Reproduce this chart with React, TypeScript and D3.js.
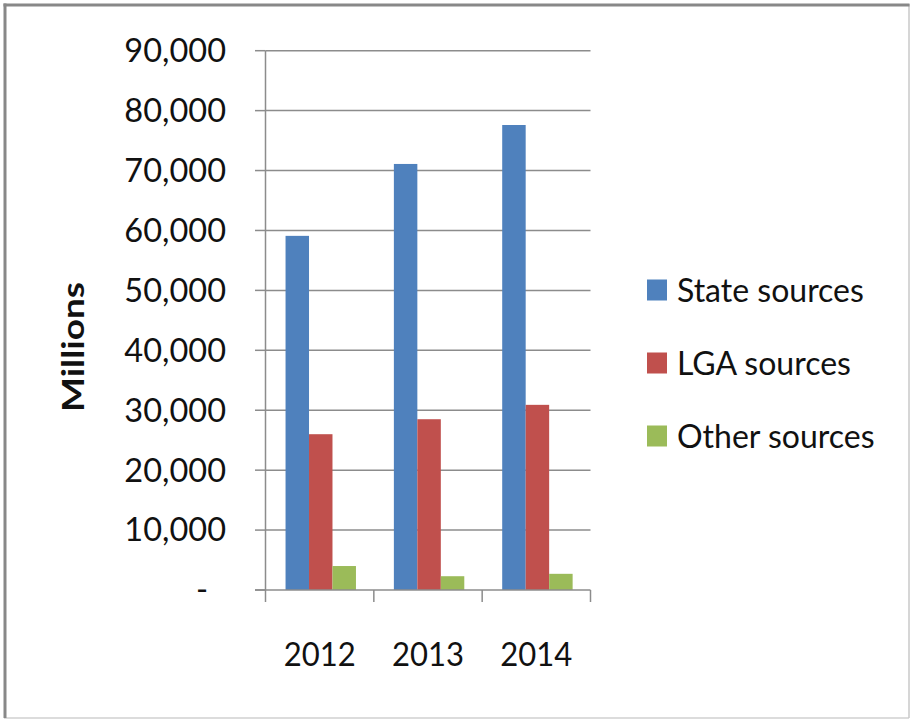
import React from "react";
import * as d3 from "d3";

const years = ["2012", "2013", "2014"];
const seriesNames = ["State sources", "LGA sources", "Other sources"];
const seriesColors = ["#4F81BD", "#C0504D", "#9BBB59"];
const stateValues = [59100, 71100, 77600];
const lgaValues = [26000, 28500, 30900];
const otherValues = [4000, 2300, 2700];
const yTicks = [0, 10000, 20000, 30000, 40000, 50000, 60000, 70000, 80000, 90000];

const W = 910;
const H = 720;
const FONT = "Lato, 'Open Sans', sans-serif";

export default function App() {
  const series = [stateValues, lgaValues, otherValues];
  const plotL = 265.5;
  const plotR = 590.5;
  const y = d3.scaleLinear().domain([0, 90000]).range([590, 50.7]);
  const x0 = d3.scaleBand<string>().domain(years).range([plotL, plotR]).padding(0);
  const bw = x0.bandwidth();
  const x1 = d3
    .scaleBand<number>()
    .domain([0, 1, 2])
    .range([bw * 0.185, bw * 0.835])
    .padding(0);
  const fmt = d3.format(",");

  return (
    <svg
      width={W}
      height={H}
      style={{ position: "absolute", left: 0, top: 0, background: "#fff" }}
    >
      <rect x={0} y={0} width={W} height={H} fill="#fff" />
      {/* outer frame */}
      <line x1={4} y1={718} x2={909} y2={718} stroke="#d0d0d0" strokeWidth={1.5} />
      <line x1={909} y1={4} x2={909} y2={718} stroke="#c8c8c8" strokeWidth={1.5} />
      <line x1={3.5} y1={5} x2={909.5} y2={5} stroke="#888" strokeWidth={3} />
      <line x1={5} y1={3.5} x2={5} y2={718} stroke="#888" strokeWidth={3} />

      {/* gridlines */}
      {yTicks.map((t) => (
        <g key={t}>
          {t > 0 && (
            <line x1={plotL} x2={plotR} y1={y(t)} y2={y(t)} stroke="#8c8c8c" strokeWidth={1.5} />
          )}
          <line x1={255} x2={plotL} y1={y(t)} y2={y(t)} stroke="#8c8c8c" strokeWidth={1.5} />
          <text
            x={t === 0 ? 208 : 226}
            y={y(t)}
            dy="0.35em"
            textAnchor="end"
            fontFamily={FONT}
            fontSize={32.5}
            fill="#111"
          >
            {t === 0 ? "-" : fmt(t)}
          </text>
        </g>
      ))}

      {/* bars */}
      {years.map((yr, i) => (
        <g key={yr} transform={`translate(${x0(yr)},0)`}>
          {series.map((vals, s) => (
            <rect
              key={s}
              x={x1(s)}
              y={y(vals[i])}
              width={x1.bandwidth()}
              height={y(0) - y(vals[i])}
              fill={seriesColors[s]}
            />
          ))}
        </g>
      ))}

      {/* axes */}
      <line x1={plotL} x2={plotL} y1={y(90000)} y2={y(0)} stroke="#8c8c8c" strokeWidth={1.5} />
      <line x1={255} x2={plotR} y1={y(0)} y2={y(0)} stroke="#8c8c8c" strokeWidth={1.5} />
      {[...years.map((yr) => x0(yr) as number), plotR].map((xx, i) => (
        <line key={i} x1={xx} x2={xx} y1={y(0)} y2={602} stroke="#8c8c8c" strokeWidth={1.5} />
      ))}
      {years.map((yr) => (
        <text
          key={yr}
          x={(x0(yr) as number) + bw / 2}
          y={666}
          textAnchor="middle"
          fontFamily={FONT}
          fontSize={33}
          textLength={72}
          lengthAdjust="spacingAndGlyphs"
          fill="#111"
        >
          {yr}
        </text>
      ))}

      {/* y title */}
      <text
        transform={`translate(84,347) rotate(-90)`}
        textAnchor="middle"
        fontFamily={FONT}
        fontWeight="bold"
        fontSize={31}
        textLength={130}
        lengthAdjust="spacingAndGlyphs"
        fill="#111"
      >
        Millions
      </text>

      {/* legend */}
      {seriesNames.map((n, s) => (
        <g key={n} transform={`translate(647,${290 + s * 73})`}>
          <rect x={0} y={-10.5} width={20} height={21} fill={seriesColors[s]} />
          <text x={30} y={0} dy="0.36em" fontFamily={FONT} fontSize={32} fill="#111">
            {n}
          </text>
        </g>
      ))}
    </svg>
  );
}
